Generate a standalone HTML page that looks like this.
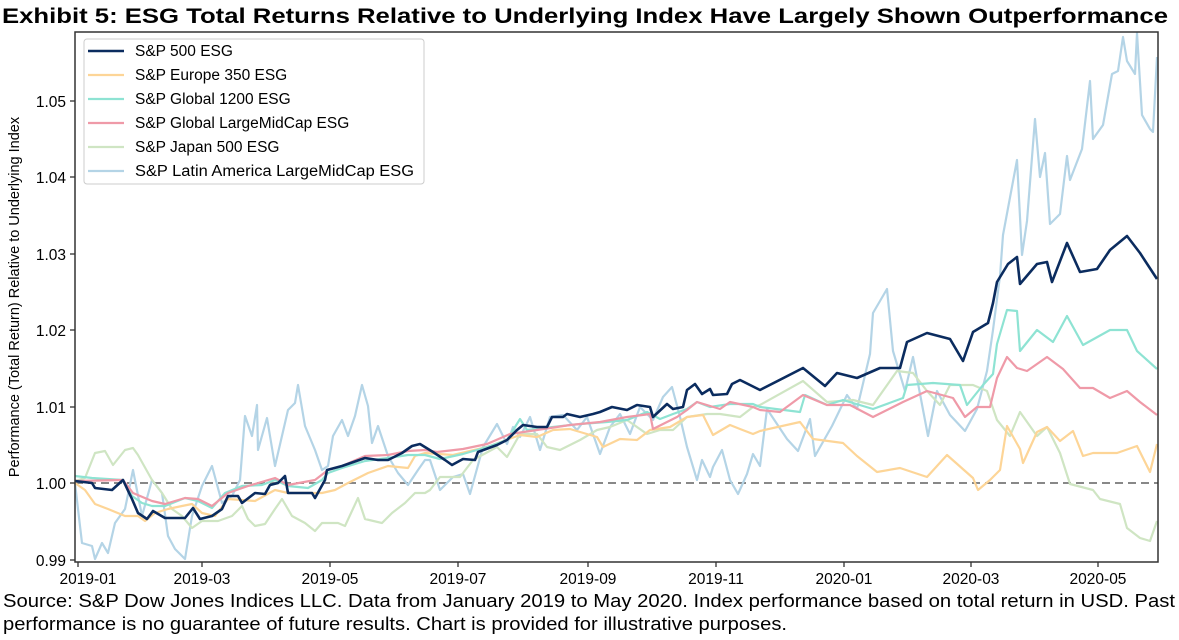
<!DOCTYPE html>
<html><head><meta charset="utf-8"><style>
body{margin:0;background:#fff;width:1179px;height:640px;overflow:hidden}
svg{display:block}
text{font-family:"Liberation Sans",Arial,sans-serif;fill:#000}
</style></head><body>
<svg width="1179" height="640" viewBox="0 0 1179 640">
<text x="2" y="23" font-size="21.5" font-weight="bold" textLength="1166" lengthAdjust="spacingAndGlyphs">Exhibit 5: ESG Total Returns Relative to Underlying Index Have Largely Shown Outperformance</text>
<g fill="none" stroke-width="2.2" stroke-linejoin="round">
<line x1="75" y1="483" x2="1158" y2="483" stroke="#888" stroke-width="2" stroke-dasharray="8,5"/>
<polyline stroke="#b4d4e6" points="75,483 78,509 82,543 92,546 95,559 102,543 108,553 115,523 125,509 133,470 142,516 152,480 162,493 168,536 175,549 185,559 192,516 202,486 212,466 222,503 232,496 240,480 245,416 252,436 257,405 258,450 267,418 275,466 288,410 295,403 298,385 305,426 315,450 322,470 328,466 333,436 342,420 348,436 355,416 362,385 368,406 372,443 378,426 388,456 398,473 408,485 418,470 425,460 430,460 440,490 453,477 463,474 470,494 483,447 497,424 507,444 513,427 520,437 530,417 540,450 550,417 563,415 577,430 587,417 600,454 610,427 620,414 630,434 640,407 653,420 663,397 672,387 680,417 687,447 697,480 702,460 710,477 713,467 722,450 730,480 738,494 747,474 753,454 760,466 767,409 787,439 798,451 810,419 815,456 832,426 847,395 857,409 870,354 873,313 887,289 893,351 905,391 913,357 928,436 937,391 950,415 965,431 977,409 987,371 993,330 1000,276 1003,235 1017,160 1022,255 1027,221 1035,119 1040,177 1045,153 1050,224 1060,214 1067,156 1070,180 1082,149 1090,81 1093,139 1103,125 1112,74 1118,71 1123,37 1127,61 1135,74 1137,33 1142,115 1150,129 1153,132 1157,57"/>
<polyline stroke="#cfe5c3" points="75,481 85,478 95,453 105,451 113,465 125,450 133,448 138,455 152,480 162,493 172,509 182,516 192,528 202,521 218,521 232,516 242,506 248,519 255,526 265,524 275,509 282,499 292,516 305,523 315,531 322,523 338,523 345,526 358,498 365,519 382,523 392,513 405,503 415,493 425,493 430,490 440,477 460,477 473,460 497,447 507,457 520,434 537,434 547,447 560,450 580,440 597,430 610,427 627,420 647,434 660,430 673,430 687,417 707,414 720,414 740,417 753,407 760,405 803,381 827,402 853,400 873,405 897,371 913,373 927,391 940,405 950,385 973,385 987,391 997,420 1010,436 1020,412 1037,436 1047,427 1060,453 1070,484 1093,490 1100,499 1120,504 1127,528 1140,538 1150,541 1157,521"/>
<polyline stroke="#fdd597" points="75,483 85,490 95,504 108,509 125,516 138,516 145,521 155,513 168,509 182,506 192,504 202,513 215,516 228,499 255,501 275,490 288,493 308,493 322,493 335,490 348,483 368,473 388,466 408,468 415,456 425,453 453,455 487,447 520,435 537,437 553,430 570,429 597,437 603,447 620,439 637,440 650,430 670,427 687,417 703,415 713,435 730,425 740,429 753,434 760,431 800,422 813,439 843,443 857,456 877,472 900,468 927,477 947,455 973,478 978,490 990,480 1000,470 1007,426 1020,449 1023,463 1037,432 1047,427 1060,441 1073,431 1083,456 1093,453 1117,453 1137,446 1150,472 1157,444"/>
<polyline stroke="#8ee3d3" points="75,476 92,478 123,480 132,496 142,503 152,506 165,506 185,498 198,501 212,508 225,493 242,486 262,485 275,480 288,486 308,488 322,480 328,473 342,468 365,461 388,458 408,455 425,455 440,459 463,454 487,447 507,440 520,419 527,430 553,427 580,424 607,422 627,420 647,412 660,419 673,414 687,409 697,402 710,407 730,404 753,404 760,407 800,412 805,395 827,405 843,400 873,409 903,398 907,385 933,383 960,385 967,405 983,385 993,374 997,344 1007,310 1017,311 1020,351 1037,330 1053,342 1067,316 1083,345 1110,330 1127,330 1137,351 1157,369"/>
<polyline stroke="#ef9aa8" points="75,481 123,480 133,493 152,501 165,504 185,498 198,499 212,506 228,493 248,486 275,478 288,485 315,480 328,470 342,466 365,456 388,455 408,451 425,450 437,452 463,449 487,444 510,434 537,430 570,425 600,422 627,417 650,414 653,429 677,417 687,410 697,402 720,409 730,402 753,407 760,410 780,412 803,395 827,405 850,405 873,417 903,402 927,391 953,398 965,417 977,407 990,407 997,378 1007,357 1017,368 1027,371 1047,357 1063,369 1080,388 1093,388 1110,398 1127,391 1140,402 1157,415"/>
<polyline stroke="#0b2c5f" stroke-width="2.6" points="75,481 92,483 95,488 112,490 123,480 132,499 138,513 147,519 153,511 165,518 175,518 185,518 193,508 200,519 212,516 222,509 228,496 238,496 242,503 255,493 265,494 270,485 278,483 285,476 288,493 298,493 312,493 315,498 325,480 327,470 342,466 365,458 378,460 388,460 402,453 412,446 420,444 433,452 445,460 452,465 463,459 475,460 478,452 497,445 507,440 517,430 523,425 537,427 547,427 552,417 563,417 567,414 580,417 593,414 600,412 612,407 627,410 637,405 650,407 653,417 667,404 673,409 683,407 687,390 695,384 702,394 710,389 713,395 727,394 732,384 740,380 750,385 760,390 803,368 825,386 837,373 857,378 880,368 900,368 907,342 927,333 950,339 963,361 973,332 988,323 993,303 997,282 1008,264 1017,257 1020,284 1037,264 1047,262 1052,282 1067,243 1080,272 1097,269 1110,250 1127,236 1140,253 1157,279"/>
</g>
<rect x="75" y="32" width="1083" height="530" fill="none" stroke="#333" stroke-width="1.5"/>
<g stroke="#333" stroke-width="1.3">
<line x1="70" y1="101" x2="75" y2="101"/><line x1="70" y1="177" x2="75" y2="177"/><line x1="70" y1="254" x2="75" y2="254"/><line x1="70" y1="330" x2="75" y2="330"/><line x1="70" y1="407" x2="75" y2="407"/><line x1="70" y1="483" x2="75" y2="483"/><line x1="70" y1="560" x2="75" y2="560"/>
<line x1="78" y1="562" x2="78" y2="567"/><line x1="202" y1="562" x2="202" y2="567"/><line x1="330" y1="562" x2="330" y2="567"/><line x1="458" y1="562" x2="458" y2="567"/><line x1="588" y1="562" x2="588" y2="567"/><line x1="716" y1="562" x2="716" y2="567"/><line x1="844" y1="562" x2="844" y2="567"/><line x1="971" y1="562" x2="971" y2="567"/><line x1="1098" y1="562" x2="1098" y2="567"/>
</g>
<g font-size="15.5" text-anchor="end">
<text x="66" y="107">1.05</text><text x="66" y="183">1.04</text><text x="66" y="260">1.03</text><text x="66" y="336">1.02</text><text x="66" y="413">1.01</text><text x="66" y="489">1.00</text><text x="66" y="566">0.99</text>
</g>
<g font-size="15.5" text-anchor="middle">
<text x="88" y="584">2019-01</text><text x="202" y="584">2019-03</text><text x="330" y="584">2019-05</text><text x="458" y="584">2019-07</text><text x="588" y="584">2019-09</text><text x="716" y="584">2019-11</text><text x="844" y="584">2020-01</text><text x="971" y="584">2020-03</text><text x="1098" y="584">2020-05</text>
</g>
<text transform="translate(19,297) rotate(-90)" font-size="14.5" text-anchor="middle">Performance (Total Return) Relative to Underlying Index</text>
<rect x="84" y="39" width="340" height="145" rx="3" fill="#fff" fill-opacity="0.85" stroke="#ccc"/>
<g stroke-width="2.2">
<line x1="88" y1="51" x2="124" y2="51" stroke="#0b2c5f" stroke-width="2.6"/>
<line x1="88" y1="75" x2="124" y2="75" stroke="#fdd597"/>
<line x1="88" y1="99" x2="124" y2="99" stroke="#8ee3d3"/>
<line x1="88" y1="123" x2="124" y2="123" stroke="#ef9aa8"/>
<line x1="88" y1="147" x2="124" y2="147" stroke="#cfe5c3"/>
<line x1="88" y1="171" x2="124" y2="171" stroke="#b4d4e6"/>
</g>
<g font-size="15.5">
<text x="135" y="56">S&amp;P 500 ESG</text>
<text x="135" y="80">S&amp;P Europe 350 ESG</text>
<text x="135" y="104">S&amp;P Global 1200 ESG</text>
<text x="135" y="128">S&amp;P Global LargeMidCap ESG</text>
<text x="135" y="152">S&amp;P Japan 500 ESG</text>
<text x="135" y="176" textLength="279" lengthAdjust="spacingAndGlyphs">S&amp;P Latin America LargeMidCap ESG</text>
</g>
<text x="3" y="607" font-size="18" textLength="1172" lengthAdjust="spacingAndGlyphs">Source: S&amp;P Dow Jones Indices LLC. Data from January 2019 to May 2020. Index performance based on total return in USD. Past</text>
<text x="3" y="630" font-size="18" textLength="784" lengthAdjust="spacingAndGlyphs">performance is no guarantee of future results. Chart is provided for illustrative purposes.</text>
</svg>
</body></html>
